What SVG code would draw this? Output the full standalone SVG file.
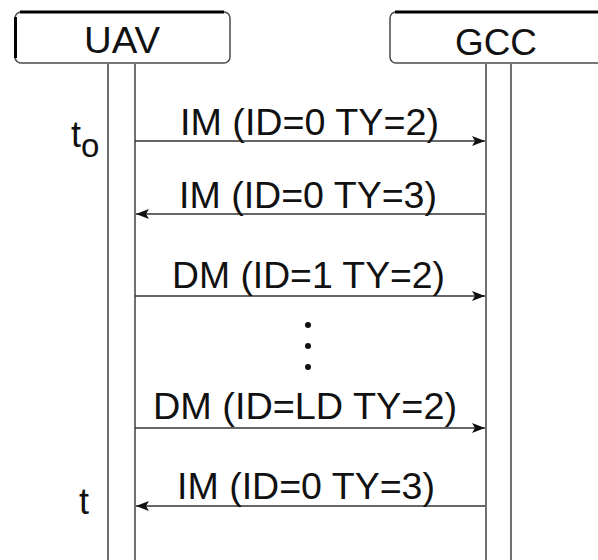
<svg xmlns="http://www.w3.org/2000/svg" width="598" height="560" viewBox="0 0 598 560">
<style>
.box{fill:#fff;stroke:#4a4a4a;stroke-width:1.5}
.edge{stroke:#000;stroke-width:3;fill:none}
.life{stroke:#707070;stroke-width:2;fill:none}
.msg{stroke:#333;stroke-width:1.6;fill:none}
text{font-family:"Liberation Sans",Arial,sans-serif;fill:#111}
.lbl{font-size:36px}
.hd{font-size:37px}
</style>
<defs>
<marker id="ah" markerWidth="14" markerHeight="12" refX="13" refY="6" orient="auto" markerUnits="userSpaceOnUse">
<path d="M0,1 L13,6 L0,11 L3,6 Z" fill="#111"/>
</marker>
</defs>
<rect width="598" height="560" fill="#fff"/>
<g id="lifelines">
<line class="life" x1="108" y1="64" x2="108" y2="560"/>
<line class="life" x1="135" y1="64" x2="135" y2="560"/>
<line class="life" x1="486" y1="64" x2="486" y2="560"/>
<line class="life" x1="511" y1="64" x2="511" y2="560"/>
</g>
<g id="uav">
<rect class="box" x="15" y="12" width="215" height="51" rx="6"/>
<path class="edge" d="M20,12 H224 M15.5,17 V58"/>
<text class="hd" x="122" y="53" text-anchor="middle" textLength="76" lengthAdjust="spacingAndGlyphs">UAV</text>
</g>
<g id="gcc">
<rect class="box" x="390" y="12" width="230" height="51" rx="6"/>
<path class="edge" d="M395,12 H598"/>
<text class="hd" x="496" y="55" text-anchor="middle" textLength="82" lengthAdjust="spacingAndGlyphs">GCC</text>
</g>
<g id="times">
<text class="lbl" x="71" y="147">t<tspan font-size="33" dy="10">o</tspan></text>
<text class="lbl" x="79" y="514">t</text>
</g>
<g id="connectors">
<line class="msg" x1="135" y1="141" x2="485" y2="141" marker-end="url(#ah)"/>
<line class="msg" x1="485" y1="214" x2="136" y2="214" marker-end="url(#ah)"/>
<line class="msg" x1="135" y1="296" x2="485" y2="296" marker-end="url(#ah)"/>
<line class="msg" x1="135" y1="428" x2="485" y2="428" marker-end="url(#ah)"/>
<line class="msg" x1="485" y1="506" x2="136" y2="506" marker-end="url(#ah)"/>
</g>
<g id="labels">
<text class="lbl" x="180" y="135" textLength="259" lengthAdjust="spacingAndGlyphs">IM (ID=0 TY=2)</text>
<text class="lbl" x="179" y="208" textLength="258" lengthAdjust="spacingAndGlyphs">IM (ID=0 TY=3)</text>
<text class="lbl" x="172" y="288" textLength="273" lengthAdjust="spacingAndGlyphs">DM (ID=1 TY=2)</text>
<text class="lbl" x="153" y="419" textLength="304" lengthAdjust="spacingAndGlyphs">DM (ID=LD TY=2)</text>
<text class="lbl" x="177" y="499" textLength="258" lengthAdjust="spacingAndGlyphs">IM (ID=0 TY=3)</text>
</g>
<g id="ellipsis" fill="#111">
<circle cx="308" cy="325" r="3"/>
<circle cx="308" cy="346" r="3"/>
<circle cx="308" cy="367" r="3"/>
</g>
</svg>
